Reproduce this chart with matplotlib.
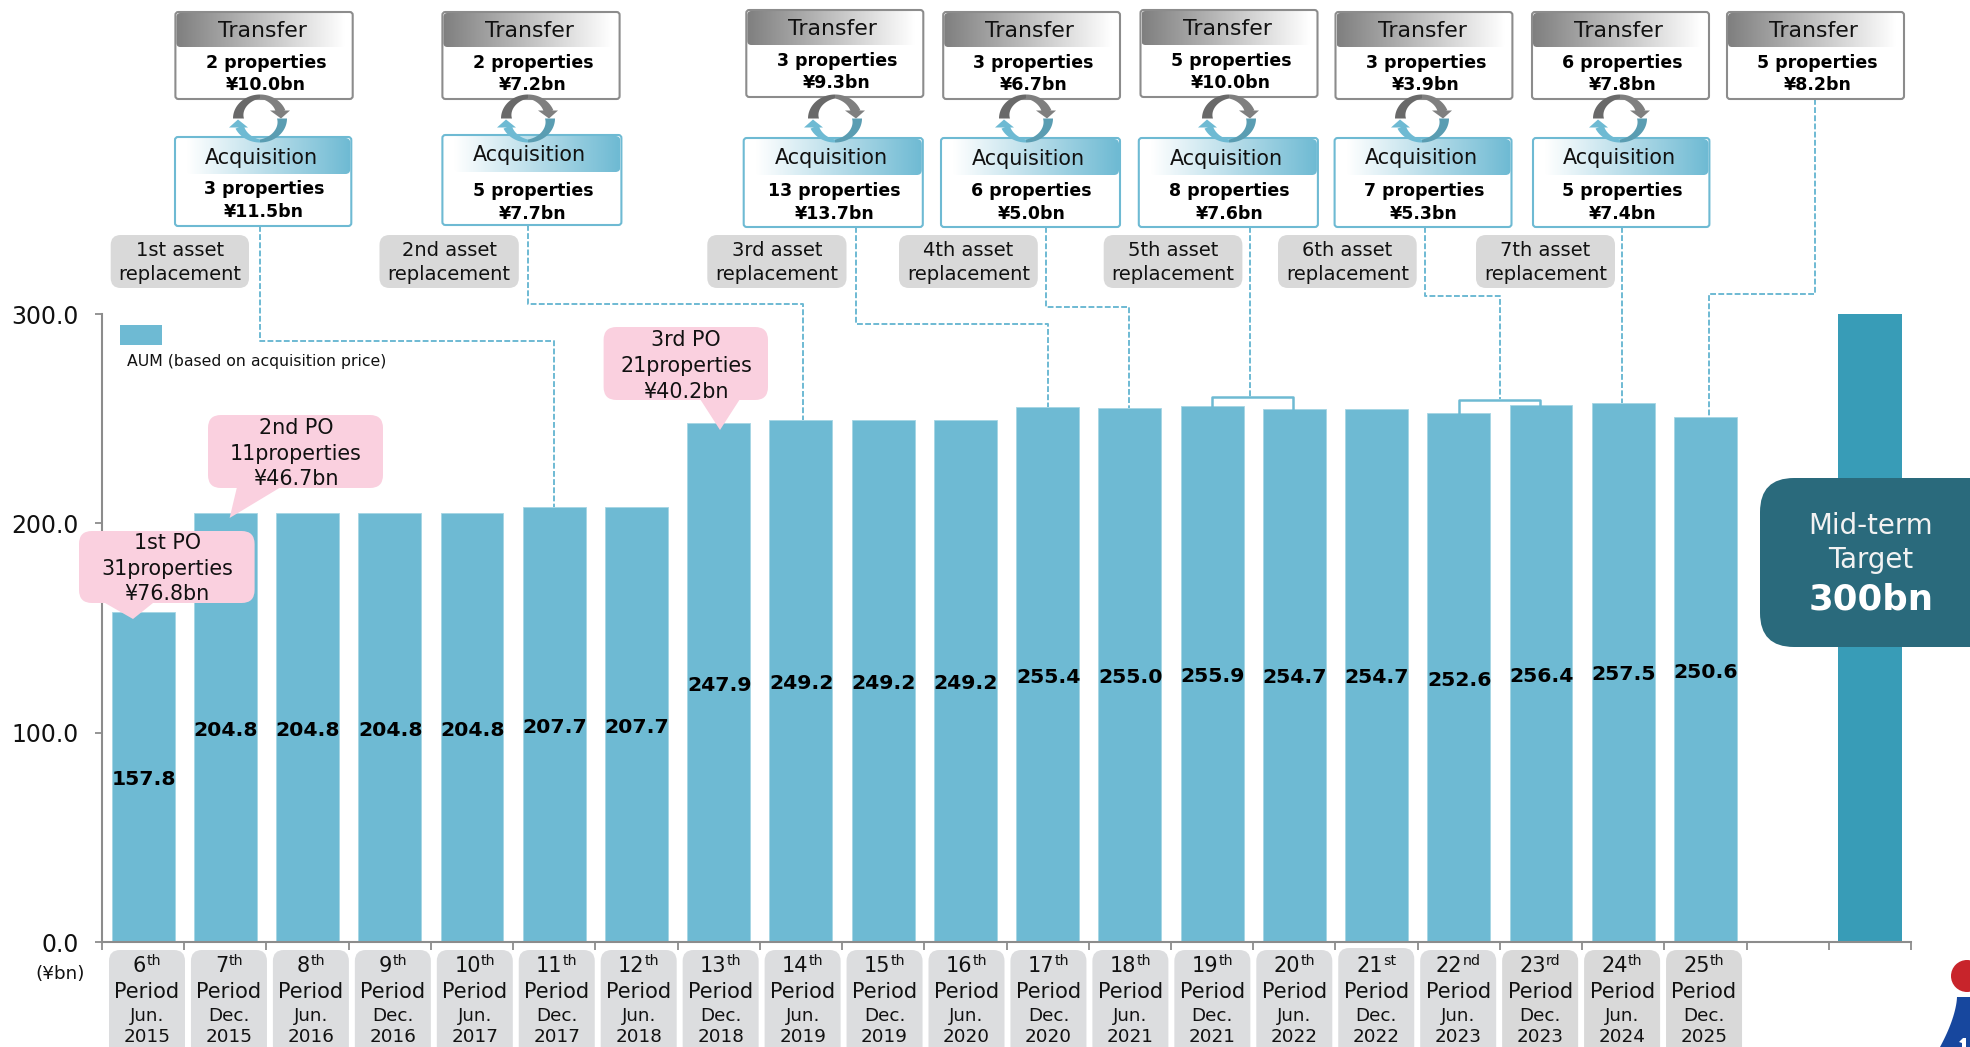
import numpy as np
import matplotlib
matplotlib.use("Agg")
import matplotlib.pyplot as plt
from matplotlib.patches import FancyBboxPatch, Polygon, Circle, Rectangle
from matplotlib.colors import LinearSegmentedColormap

plt.rcParams['font.family'] = ['DejaVu Sans']

# ---------- data ----------
periods = ["6", "7", "8", "9", "10", "11", "12", "13", "14", "15", "16", "17", "18", "19", "20", "21", "22", "23", "24", "25"]
suffixes = ["th"] * 15 + ["st", "nd", "rd", "th", "th"]
months = ["Jun.", "Dec."] * 10
years = ["2015", "2015", "2016", "2016", "2017", "2017", "2018", "2018", "2019", "2019",
         "2020", "2020", "2021", "2021", "2022", "2022", "2023", "2023", "2024", "2025"]
aum = [157.8, 204.8, 204.8, 204.8, 204.8, 207.7, 207.7, 247.9, 249.2, 249.2,
       249.2, 255.4, 255.0, 255.9, 254.7, 254.7, 252.6, 256.4, 257.5, 250.6]
target_value = 300.0
y_ticks = [0, 100, 200, 300]

transfer_props = [2, 2, 3, 3, 5, 3, 6, 5]
transfer_bn = ["10.0", "7.2", "9.3", "6.7", "10.0", "3.9", "7.8", "8.2"]
acq_props = [3, 5, 13, 6, 8, 7, 5]
acq_bn = ["11.5", "7.7", "13.7", "5.0", "7.6", "5.3", "7.4"]
replacements = ["1st", "2nd", "3rd", "4th", "5th", "6th", "7th"]
po_names = ["1st PO", "2nd PO", "3rd PO"]
po_props = [31, 11, 21]
po_bn = ["76.8", "46.7", "40.2"]

# ---------- colours ----------
BAR = "#6EBAD3"
TARGET = "#389CB7"
GREY = "#8C8C8C"
PINK = "#FAD0DF"
TAG = "#D9D9D9"

W, H = 1970, 1047
fig = plt.figure(figsize=(W / 100, H / 100), dpi=100, facecolor="white")

# ---------- main chart ----------
L, R, T, B = 102, 1911, 314, 942
ax = fig.add_axes([L / W, 1 - B / H, (R - L) / W, (B - T) / H])
xs = np.arange(len(aum)) + 0.5
ax.bar(xs, aum, width=0.765, color=BAR, edgecolor="#A5D5E4", linewidth=0.6)
ax.bar([21.5], [target_value], width=0.78, color=TARGET)
ax.set_xlim(0, 22)
ax.set_ylim(0, 300)
ax.set_xticks(range(23))
ax.set_xticklabels([])
ax.set_yticks(y_ticks)
ax.set_yticklabels([f"{v:.1f}" for v in y_ticks], fontsize=17, color="#111111")
ax.tick_params(axis="x", length=5.8, width=1.3, color=GREY, direction="out")
ax.tick_params(axis="y", length=5, width=1.3, color=GREY, pad=12)
for s in ("top", "right"):
    ax.spines[s].set_visible(False)
for s in ("left", "bottom"):
    ax.spines[s].set_color(GREY)
    ax.spines[s].set_linewidth(1.5)

# ---------- pixel overlay ----------
ov = fig.add_axes([0, 0, 1, 1], zorder=5)
ov.set_xlim(0, W)
ov.set_ylim(H, 0)
ov.axis("off")
ov.patch.set_alpha(0)
ov.set_autoscale_on(False)


def to_px_y(v):
    return B - (B - T) * v / 300.0


def rbox(x0, y0, x1, y1, r, fc, ec="none", lw=0, z=2):
    p = FancyBboxPatch((x0 + r, y0 + r), x1 - x0 - 2 * r, y1 - y0 - 2 * r,
                       boxstyle=f"round,pad={r},rounding_size={r}",
                       facecolor=fc, edgecolor=ec, linewidth=lw, zorder=z)
    ov.add_patch(p)
    return p


def gradient(x0, y0, x1, y1, c0, c1, z=3, r=5):
    cmap = LinearSegmentedColormap.from_list("g", [c0, c1])
    im = ov.imshow(np.linspace(0, 1, 256).reshape(1, -1), cmap=cmap, aspect="auto",
                   extent=(x0, x1, y1, y0), zorder=z, interpolation="bilinear")
    clip = rbox(x0, y0, x1, y1, r, "none", z=z)
    im.set_clip_path(clip)


def txt(x, y, s, size, weight="normal", color="#111111", z=6, ha="center"):
    return ov.text(x, y, s, fontsize=size, fontweight=weight, color=color, ha=ha,
                   va="center", zorder=z)


# value labels (drawn in overlay at bar middles)
label_nudge = [0] * 19 + [-10]
for x, v, n in zip(xs, aum, label_nudge):
    px = L + (R - L) * x / 22
    txt(px + 0.5, to_px_y(v / 2) + 2.5 + n, f"{v:.1f}", 14.7, "bold", "#000000")

# legend
ov.add_patch(Rectangle((120, 325), 42, 20, facecolor=BAR, edgecolor="none", zorder=2))
txt(127, 361.5, "AUM (based on acquisition price)", 11.3, ha="left")
txt(60, 974, "(¥bn)", 13.2)

# period tags
renderer = fig.canvas.get_renderer()
for i, (p, suf, m, yr) in enumerate(zip(periods, suffixes, months, years)):
    x0 = 109 + 81.95 * i
    cx = x0 + 38
    top = 948 if p == "21" else 950
    rbox(x0, top, x0 + 76, H + 12, 11, "#DCDDDF" if i < 17 else TAG)
    a = txt(0, 966, p, 15, ha="left")
    b = ov.text(0, 961, suf, fontsize=10.2, color="#111111", ha="left", va="center", zorder=6)
    wa = a.get_window_extent(renderer).width
    wb = b.get_window_extent(renderer).width
    start = cx - (wa + wb) / 2
    a.set_x(start)
    b.set_x(start + wa)
    txt(cx, 992, "Period", 15)
    txt(cx, 1016, m, 13.2)
    txt(cx, 1037.5, yr, 13.2)

# connector lines
dash = dict(color=BAR, lw=1.4, ls=(0, (3, 1.2)), zorder=1.5)
conn_ends = [
    (260, 226, 341, 554, aum[5]),
    (528, 225, 304, 803, aum[8]),
    (856, 227, 324, 1048, aum[11]),
    (1046, 227, 307, 1129, aum[12]),
    (1815, 99, 294, 1708.5, aum[19]),
]
for x0, y0, ye, x1, v in conn_ends:
    ov.plot([x0, x0, x1, x1], [y0, ye, ye, to_px_y(v)], **dash)
ov.plot([1250, 1250], [227, 397], **dash)
ov.plot([1424.5, 1424.5, 1499.5, 1499.5], [227, 296, 296, 399], **dash)
ov.plot([1622, 1622], [227, to_px_y(aum[18])], **dash)

# brackets
for x0, x1, ye, v0, v1 in [(1212, 1293, 397, aum[13], aum[14]), (1458.5, 1539.5, 399.5, aum[16], aum[17])]:
    ov.plot([x0, x0, x1, x1], [to_px_y(v0), ye, ye, to_px_y(v1)], color=BAR, lw=1.8, zorder=1.6,
            solid_joinstyle="round")

# asset replacement tags
tag_x = [(110.7, 249), (379.5, 518.8), (707.3, 846.5), (899, 1037.8), (1103.7, 1242.4), (1278, 1416.7), (1476, 1615)]
for (x0, x1), name in zip(tag_x, replacements):
    rbox(x0, 235, x1, 288, 10, TAG)
    cx = (x0 + x1) / 2
    txt(cx, 251, f"{name} asset", 14)
    txt(cx, 275, "replacement", 14)

# transfer boxes
transfer_box = [(175.4, 352.7, 12), (442.4, 619.6, 12), (746.3, 923.3, 10), (943.2, 1120, 12),
                (1140.5, 1317.5, 10), (1335.5, 1512.4, 12), (1532, 1709, 12), (1727, 1904, 12)]
for (x0, x1, y0), n, bn in zip(transfer_box, transfer_props, transfer_bn):
    rbox(x0, y0, x1, y0 + 87, 3, "white", z=2)
    gradient(x0 + 1, y0 + 1, x1 - 8, y0 + 35, "#7F7F7F", "#FFFFFF", r=4)
    rbox(x0, y0, x1, y0 + 87, 3, "none", ec=GREY, lw=1.5, z=3.5)
    cx = (x0 + x1) / 2
    txt(cx - 2, y0 + 19, "Transfer", 15.8)
    txt(cx + 2, y0 + 50.5, f"{n} properties", 12.5, "bold", "#000000")
    txt(cx + 2, y0 + 72.5, f"¥{bn}bn", 12.5, "bold", "#000000")

# acquisition boxes
acq_box = [(175, 351.3, 137, 226, 158, 189, 212), (442.4, 621.4, 135, 225, 155, 191, 214),
           (743.7, 922.8, 138, 227, 158, 191, 214), (941, 1120, 138, 227, 159, 191, 214),
           (1138.8, 1317.9, 138, 227, 159, 191, 214), (1334.6, 1511.5, 138, 227, 158, 191, 214),
           (1533, 1709.4, 138, 227, 158, 191, 214)]
for (x0, x1, y0, y1, ya, yb, yc), n, bn in zip(acq_box, acq_props, acq_bn):
    rbox(x0, y0, x1, y1, 3, "white", z=2)
    gradient(x0 + 12, y0 + 1, x1 - 1, y0 + 37, "#FFFFFF", BAR, r=5)
    rbox(x0, y0, x1, y1, 3, "none", ec=BAR, lw=1.5, z=3.5)
    cx = (x0 + x1) / 2
    txt(cx - 2, ya, "Acquisition", 14.9)
    txt(cx + 1, yb, f"{n} properties", 12.5, "bold", "#000000")
    txt(cx + 1, yc, f"¥{bn}bn", 12.5, "bold", "#000000")


# cycle arrows
def arc_band(cx, cy, a0, a1, t0, t1, color, rx=27, ry=24):
    a = np.radians(np.linspace(a0, a1, 40))
    t = np.linspace(t0, t1, 40)
    outer = np.c_[cx + rx * np.cos(a), cy - ry * np.sin(a)]
    inner = np.c_[cx + (rx - t) * np.cos(a), cy - (ry - t) * np.sin(a)]
    ov.add_patch(Polygon(np.r_[outer, inner[::-1]], closed=True, fc=color, ec="none", zorder=5))


for cx in [260, 528, 835, 1026, 1229, 1422, 1620]:
    cy = 118.5
    arc_band(cx, cy, 180, 90, 11, 4, "#696969")
    arc_band(cx, cy, 90, 20, 4, 10, "#7F7F7F")
    ov.add_patch(Polygon([(cx + 10, cy - 8), (cx + 30, cy - 8), (cx + 21, cy)], closed=True,
                         fc="#7F7F7F", ec="none", zorder=5))
    arc_band(cx, cy, 0, -90, 10, 3, "#5A9DB2")
    arc_band(cx, cy, -90, -155, 3, 9, BAR)
    ov.add_patch(Polygon([(cx - 31, cy + 9), (cx - 12, cy + 9), (cx - 22, cy + 1)], closed=True,
                         fc=BAR, ec="none", zorder=5))

# PO callouts
po_geo = [
    (79, 254.6, 531, 603, [(105, 603), (133, 619), (153, 603)], 167, (543, 569, 594)),
    (208, 383, 415, 488, [(237, 487), (229.6, 518), (281, 487)], 296, (428, 454, 479)),
    (603.6, 768, 327, 400, [(700, 399), (720, 430), (740, 399)], 686, (340, 366, 392)),
]
for (x0, x1, y0, y1, tri, cx, ys), name, n, bn in zip(po_geo, po_names, po_props, po_bn):
    rbox(x0, y0, x1, y1, 13, PINK, z=4)
    ov.add_patch(Polygon(tri, closed=True, fc=PINK, ec="none", zorder=4))
    txt(cx, ys[0], name, 14.9)
    txt(cx, ys[1], f"{n}properties", 14.9)
    txt(cx, ys[2], f"¥{bn}bn", 14.9)

# mid-term target
rbox(1760, 478, 2010, 647, 34, "#2A6A7C", z=4)
txt(1871, 526, "Mid-term", 19.9, color="#F2F2F2")
txt(1871, 560, "Target", 19.9, color="#F2F2F2")
txt(1871, 599, "300bn", 25.6, "bold", "#FFFFFF")

# logo fragment
ov.add_patch(Circle((1967, 976), 16, fc="#C8242B", ec="none", zorder=4))
yy = np.linspace(997, 1050, 20)
xx = 1957 - 17 * ((yy - 997) / 50) ** 1.6
ov.add_patch(Polygon(np.r_[np.c_[xx, yy], [(1975, 1050), (1975, 997)]], closed=True,
                     fc="#17479E", ec="none", zorder=4))
ov.add_patch(Polygon([(1959, 1042), (1963, 1038), (1966, 1038), (1966, 1050), (1962, 1050), (1962, 1043)],
                     closed=True, fc="white", ec="none", zorder=5))

fig.savefig("out.png", dpi=100, facecolor="white")
